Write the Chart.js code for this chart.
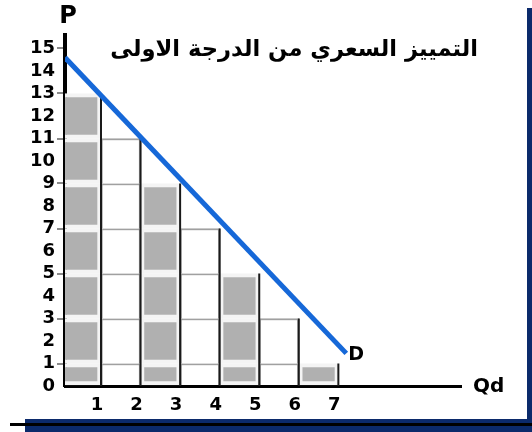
<!DOCTYPE html>
<html>
<head>
<meta charset="utf-8">
<script src="https://cdn.jsdelivr.net/npm/chart.js@4"></script>
<style>
  body { margin: 0; background: #fff; }
  #wrap { position: relative; width: 532px; height: 432px; overflow: hidden; }
  .frame { position: absolute; }
</style>
</head>
<body>
<div id="wrap">
  <canvas id="priceChart" width="532" height="432"></canvas>
  <div class="frame" style="left:527px; top:8px; width:5px; height:424px; background:#0b2a6b;"></div>
  <div class="frame" style="left:25px; top:419px; width:507px; height:13px; background:#0b2a6b;"></div>
  <div class="frame" style="left:10px; top:423px; width:522px; height:3px; background:#000;"></div>
</div>
<script>
// quantity columns (right edge of each step) and the price paid for that unit
const colQ = [1, 2, 3, 4, 5, 6, 7]
const colPrice = [13, 11, 9, 7, 5, 3, 1]
// cell boundaries inside every column
const bandEdges = [0, 1, 3, 5, 7, 9, 11, 13]
// demand curve D
const demandQ = [0.09, 7.2]
const demandP = [14.6, 1.45]
// axis ticks
const xTicks = [1, 2, 3, 4, 5, 6, 7]
const yTicks = [0, 1, 2, 3, 4, 5, 6, 7, 8, 9, 10, 11, 12, 13, 14, 15]

const titleText = 'التمييز السعري من الدرجة الاولى'

const grayCells = []
const whiteCells = []
colQ.forEach((q, i) => {
  for (let b = 0; b < bandEdges.length - 1; b++) {
    if (bandEdges[b + 1] > colPrice[i]) break
    const cell = { x: q - 0.5, y: [bandEdges[b], bandEdges[b + 1]] }
    if (q % 2 === 1) grayCells.push(cell)
    else whiteCells.push(cell)
  }
})

// vertical step edges, broken with nulls
const stepEdges = []
colQ.forEach((q, i) => {
  stepEdges.push({ x: q, y: 0 }, { x: q, y: colPrice[i] }, { x: q, y: null })
})

const demandLine = demandQ.map((q, i) => ({ x: q, y: demandP[i] }))

const labelsPlugin = {
  id: 'labels',
  afterDraw(chart) {
    const ctx = chart.ctx
    const xs = chart.scales.x
    const ys = chart.scales.y
    ctx.save()
    ctx.fillStyle = '#000'
    ctx.textBaseline = 'middle'

    ctx.font = 'bold 24px "DejaVu Sans"'
    ctx.textAlign = 'center'
    ctx.fillText('P', xs.left + 3, 17)

    ctx.font = 'bold 20px "DejaVu Sans"'
    ctx.textAlign = 'left'
    ctx.fillText('Qd', xs.right + 12, ys.bottom + 1)

    ctx.font = 'bold 19px "DejaVu Sans"'
    ctx.fillText('D', xs.getPixelForValue(demandQ[1]) + 2, ys.getPixelForValue(demandP[1]) + 2)

    let size = 22
    ctx.font = 'bold ' + size + 'px "DejaVu Sans"'
    const w = ctx.measureText(titleText).width
    size = size * 368 / w
    ctx.font = 'bold ' + size.toFixed(1) + 'px "DejaVu Sans"'
    ctx.textAlign = 'right'
    ctx.textBaseline = 'alphabetic'
    ctx.direction = 'rtl'
    ctx.fillText(titleText, 478, 56)
    ctx.restore()
  }
}

new Chart(document.getElementById('priceChart'), {
  type: 'bar',
  data: {
    datasets: [
      {
        type: 'line',
        label: 'D',
        data: demandLine,
        borderColor: '#1668d8',
        borderWidth: 5,
        pointRadius: 0,
        tension: 0,
        order: 0
      },
      {
        type: 'line',
        label: 'edges',
        data: stepEdges,
        borderColor: '#1a1a1a',
        borderWidth: 2,
        pointRadius: 0,
        spanGaps: false,
        order: 1
      },
      {
        label: 'paid',
        data: grayCells,
        backgroundColor: '#b0b0b0',
        borderColor: '#f4f4f4',
        borderWidth: 4,
        borderSkipped: false,
        barPercentage: 1,
        categoryPercentage: 1,
        order: 2
      },
      {
        label: 'open',
        data: whiteCells,
        backgroundColor: '#ffffff',
        borderColor: '#a0a0a0',
        borderWidth: 2,
        barPercentage: 1,
        categoryPercentage: 1,
        order: 3
      }
    ]
  },
  options: {
    responsive: false,
    animation: false,
    layout: { padding: { top: 35, right: 71, left: 0, bottom: 0 } },
    plugins: {
      legend: { display: false },
      tooltip: { enabled: false },
      title: { display: false }
    },
    scales: {
      x: {
        type: 'linear',
        stacked: true,
        offset: false,
        min: 0.09,
        max: 10.1,
        z: 1,
        afterBuildTicks: s => { s.ticks = xTicks.map(v => ({ value: v })) },
        afterFit: s => { s.height = 46 },
        grid: { display: false, drawTicks: false },
        border: { display: true, color: '#000', width: 3 },
        ticks: {
          color: '#000',
          padding: 9,
          labelOffset: -4,
          maxRotation: 0,
          autoSkip: false,
          font: { family: '"DejaVu Sans"', size: 18, weight: 'bold' }
        }
      },
      y: {
        stacked: false,
        min: 0,
        max: 15.6,
        z: 1,
        afterBuildTicks: s => { s.ticks = yTicks.map(v => ({ value: v })) },
        afterFit: s => { s.width = 65 },
        grid: {
          display: true,
          drawOnChartArea: false,
          drawTicks: true,
          tickLength: 8,
          lineWidth: 2,
          color: ctx => (ctx.tick && ctx.tick.value % 2 === 1) ? '#8a8a8a' : 'rgba(0,0,0,0)'
        },
        border: { display: true, color: '#000', width: 4 },
        ticks: {
          color: '#000',
          padding: 2,
          autoSkip: false,
          font: { family: '"DejaVu Sans"', size: 18, weight: 'bold' }
        }
      }
    }
  },
  plugins: [labelsPlugin]
})
</script>
</body>
</html>
